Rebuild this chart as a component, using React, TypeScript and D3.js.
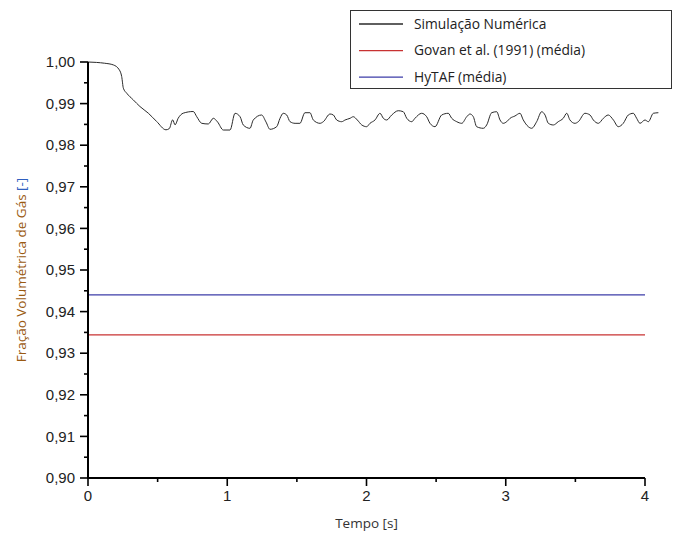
import React from 'react';
import * as d3 from 'd3';

// tempo [s] e fração de gás
const simTime = [
  0, 0.06, 0.12, 0.182, 0.225, 0.242, 0.254, 0.278, 0.325, 0.373, 0.433, 0.493, 0.56, 0.584,
  0.608, 0.625, 0.648, 0.684, 0.756, 0.781, 0.817, 0.864, 0.9, 0.93, 0.972, 1.02, 1.056,
  1.092, 1.115, 1.163, 1.187, 1.247, 1.278, 1.307, 1.355, 1.379, 1.402, 1.427, 1.451, 1.487,
  1.522, 1.558, 1.594, 1.618, 1.666, 1.69, 1.738, 1.762, 1.786, 1.822, 1.846, 1.882, 1.905,
  1.934, 1.966, 2.001, 2.025, 2.061, 2.097, 2.121, 2.145, 2.181, 2.228, 2.264, 2.289, 2.325,
  2.348, 2.396, 2.432, 2.456, 2.492, 2.54, 2.587, 2.612, 2.648, 2.684, 2.72, 2.743, 2.767,
  2.791, 2.839, 2.863, 2.899, 2.935, 2.959, 2.982, 3.007, 3.031, 3.066, 3.102, 3.126, 3.162,
  3.186, 3.222, 3.258, 3.282, 3.306, 3.342, 3.377, 3.413, 3.438, 3.461, 3.497, 3.521, 3.569,
  3.605, 3.629, 3.665, 3.701, 3.736, 3.773, 3.808, 3.844, 3.88, 3.916, 3.94, 3.964, 4.0,
  4.024, 4.06, 4.096,
];
const simValue = [
  1.0, 0.9999, 0.9997, 0.9993, 0.9981, 0.9965, 0.9937, 0.9925, 0.9909, 0.9893, 0.9877,
  0.9857, 0.9837, 0.984, 0.9861, 0.9849, 0.9865, 0.9877, 0.9881, 0.98685, 0.98526, 0.9851,
  0.98647, 0.9856, 0.98365, 0.98365, 0.98767, 0.98685, 0.98486, 0.98406, 0.98606, 0.98726,
  0.9856, 0.98382, 0.98445, 0.98647, 0.98767, 0.98726, 0.98565, 0.98526, 0.98526, 0.98781,
  0.98781, 0.98606, 0.98526, 0.98565, 0.9875, 0.98726, 0.98606, 0.98565, 0.98606, 0.98647,
  0.98685, 0.98606, 0.98486, 0.98445, 0.98526, 0.98606, 0.98767, 0.98647, 0.98606, 0.98726,
  0.98829, 0.98805, 0.98647, 0.98565, 0.98647, 0.98767, 0.98685, 0.98526, 0.98445, 0.98726,
  0.98767, 0.98647, 0.98565, 0.98526, 0.98685, 0.9875, 0.98685, 0.98445, 0.98406, 0.98486,
  0.98781, 0.98805, 0.98606, 0.98526, 0.98565, 0.98647, 0.98702, 0.98767, 0.98606, 0.98445,
  0.98406, 0.98565, 0.98805, 0.98726, 0.98526, 0.98486, 0.98565, 0.98647, 0.98767, 0.98606,
  0.98526, 0.98565, 0.98767, 0.98726, 0.98606, 0.98526, 0.98647, 0.98726, 0.98606, 0.98445,
  0.98526, 0.98726, 0.98767, 0.98647, 0.98526, 0.98606, 0.98565, 0.98767, 0.98781,
];

const govanMean = 0.9344;
const hytafMean = 0.944;
const refTime = [0, 4];

const xTicks = [0, 1, 2, 3, 4];
const xMinorTicks = [0.5, 1.5, 2.5, 3.5];
const yTicks = [0.9, 0.91, 0.92, 0.93, 0.94, 0.95, 0.96, 0.97, 0.98, 0.99, 1.0];

const legendItems = [
  { label: 'Simulação Numérica', color: '#2a2a2a' },
  { label: 'Govan et al. (1991) (média)', color: '#c83232' },
  { label: 'HyTAF (média)', color: '#3c3ca8' },
];

const W = 674;
const H = 535;

const App = () => {
  const x = d3.scaleLinear().domain([0, 4]).range([88, 645]);
  const y = d3.scaleLinear().domain([0.9, 1.0]).range([478, 62]);

  const simData = simTime.map((t, i) => [t, simValue[i]] as [number, number]);
  const line = d3.line<[number, number]>()
    .x(d => x(d[0]))
    .y(d => y(d[1]))
    .curve(d3.curveMonotoneX);

  const yMinor = yTicks.slice(0, -1).map(v => v + 0.005);
  const fmt = (v: number) => v.toFixed(2).replace('.', ',');

  return (
    <div style={{ position: 'absolute', left: 0, top: 0 }}>
      <svg width={W} height={H} style={{ display: 'block', background: '#fff' }}>
        {/* linhas de referência */}
        <line x1={x(refTime[0])} x2={x(refTime[1])} y1={y(hytafMean)} y2={y(hytafMean)}
          stroke={legendItems[2].color} strokeWidth={1.3} />
        <line x1={x(refTime[0])} x2={x(refTime[1])} y1={y(govanMean)} y2={y(govanMean)}
          stroke={legendItems[1].color} strokeWidth={1.3} />

        <path d={line(simData) || ''} fill="none" stroke={legendItems[0].color} strokeWidth={1} />

        {/* eixo y */}
        <line x1={x(0)} x2={x(0)} y1={y(0.9) + 1} y2={y(1.0)} stroke="#000" strokeWidth={2} />
        {yTicks.map(v => (
          <g key={`y${v}`}>
            <line x1={x(0) - 8} x2={x(0)} y1={y(v)} y2={y(v)} stroke="#000" strokeWidth={1.6} />
            <text x={x(0) - 13} y={y(v)} dy="0.35em" textAnchor="end"
              fontFamily="Liberation Sans, Arial, sans-serif" fontSize={15} fill="#222">{fmt(v)}</text>
          </g>
        ))}
        {yMinor.map(v => (
          <line key={`ym${v}`} x1={x(0) - 4} x2={x(0)} y1={y(v)} y2={y(v)} stroke="#000" strokeWidth={1.6} />
        ))}

        {/* eixo x */}
        <line x1={x(0) - 1} x2={x(4)} y1={y(0.9)} y2={y(0.9)} stroke="#000" strokeWidth={2} />
        {xTicks.map(v => (
          <g key={`x${v}`}>
            <line x1={x(v)} x2={x(v)} y1={y(0.9)} y2={y(0.9) + 8} stroke="#000" strokeWidth={1.6} />
            <text x={x(v)} y={y(0.9) + 23} textAnchor="middle"
              fontFamily="Liberation Sans, Arial, sans-serif" fontSize={15} fill="#222">{v}</text>
          </g>
        ))}
        {xMinorTicks.map(v => (
          <line key={`xm${v}`} x1={x(v)} x2={x(v)} y1={y(0.9)} y2={y(0.9) + 4} stroke="#000" strokeWidth={1.6} />
        ))}

        <text x={(x(0) + x(4)) / 2} y={528} textAnchor="middle"
          fontFamily="Open Sans, sans-serif" fontSize={13.5} fill="#333">Tempo [s]</text>
        <text transform={`translate(26,${(y(0.9) + y(1.0)) / 2}) rotate(-90)`} textAnchor="middle"
          fontFamily="Open Sans, sans-serif" fontSize={13.5}>
          <tspan fill="#9a5a12">Fração Volumétrica de Gás </tspan>
          <tspan fill="#2f5fbf">[-]</tspan>
        </text>

        {/* legenda */}
        <rect x={350.5} y={10.5} width={321} height={78} fill="#fff" stroke="#333" strokeWidth={1} />
        {legendItems.map((d, i) => {
          const ly = 24 + i * 26.6;
          return (
            <g key={d.label}>
              <line x1={359} x2={403} y1={ly} y2={ly} stroke={d.color} strokeWidth={1.3} />
              <text x={414} y={ly} dy="0.35em" fontFamily="Open Sans, sans-serif" fontSize={13.8} fill="#222">
                {d.label}
              </text>
            </g>
          );
        })}
      </svg>
    </div>
  );
};

export default App;
